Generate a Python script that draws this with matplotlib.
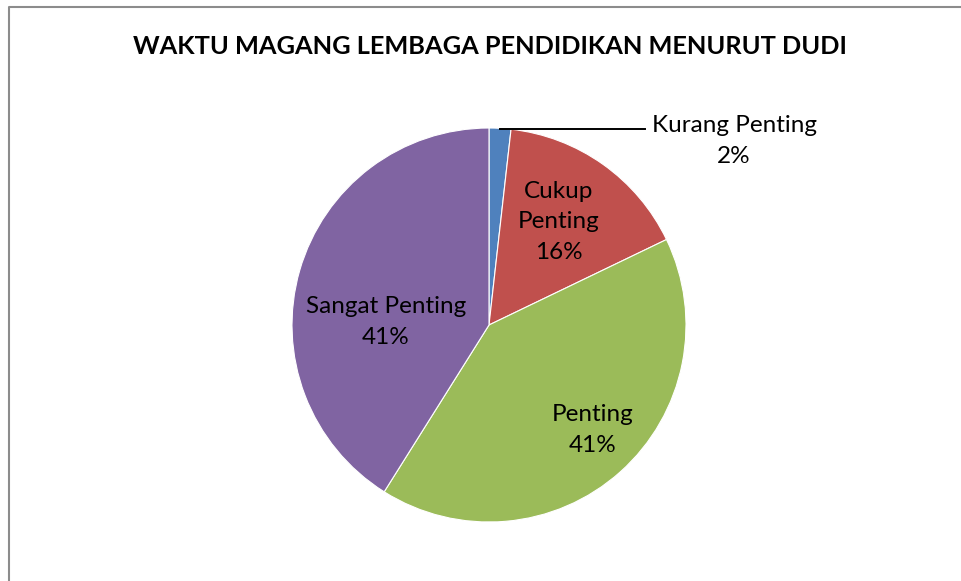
import matplotlib
matplotlib.use('Agg')
from matplotlib import pyplot as plt

labels = ['Kurang Penting', 'Cukup\nPenting', 'Penting', 'Sangat Penting']
values = [1, 9, 23, 23]
colors = ['#4F81BD', '#C0504D', '#9BBB59', '#8064A2']
title = 'WAKTU MAGANG LEMBAGA PENDIDIKAN MENURUT DUDI'

W, H = 961, 581
fig = plt.figure(figsize=(W / 100, H / 100), dpi=100)
ax = fig.add_axes([0, 0, 1, 1])

font = 'Lato'

cx, cy, r = 489, H - 325, 197
wedges, _ = ax.pie(values, colors=colors, startangle=90, counterclock=False,
                   center=(cx, cy), radius=r, frame=True,
                   wedgeprops=dict(edgecolor='white', linewidth=0.8))
ax.set_xlim(0, W)
ax.set_ylim(0, H)
ax.set_aspect('equal')
ax.axis('off')

# chart frame (only top and left edges visible)
ax.plot([9, 9, W + 5], [-5, H - 7, H - 7], color='#8c8c8c', lw=1.5)

total = sum(values)
pcts = [f'{round(v / total * 100)}%' for v in values]

pos = [(734, 141), (559, 222), (593, 430), (386, 322)]
for lab, p, (x, y) in zip(labels, pcts, pos):
    ax.text(x, H - y, lab + '\n' + p, ha='center', va='center',
            fontsize=17.5, family=font, linespacing=1.55, color='black')

# leader line for the small slice
ax.plot([500, 645], [H - 129, H - 129], color='black', lw=1.4)

ax.text(490, H - 47, title, ha='center', va='center', fontsize=18.3,
        fontweight='bold', family=font)

fig.savefig('out.png', dpi=100)
